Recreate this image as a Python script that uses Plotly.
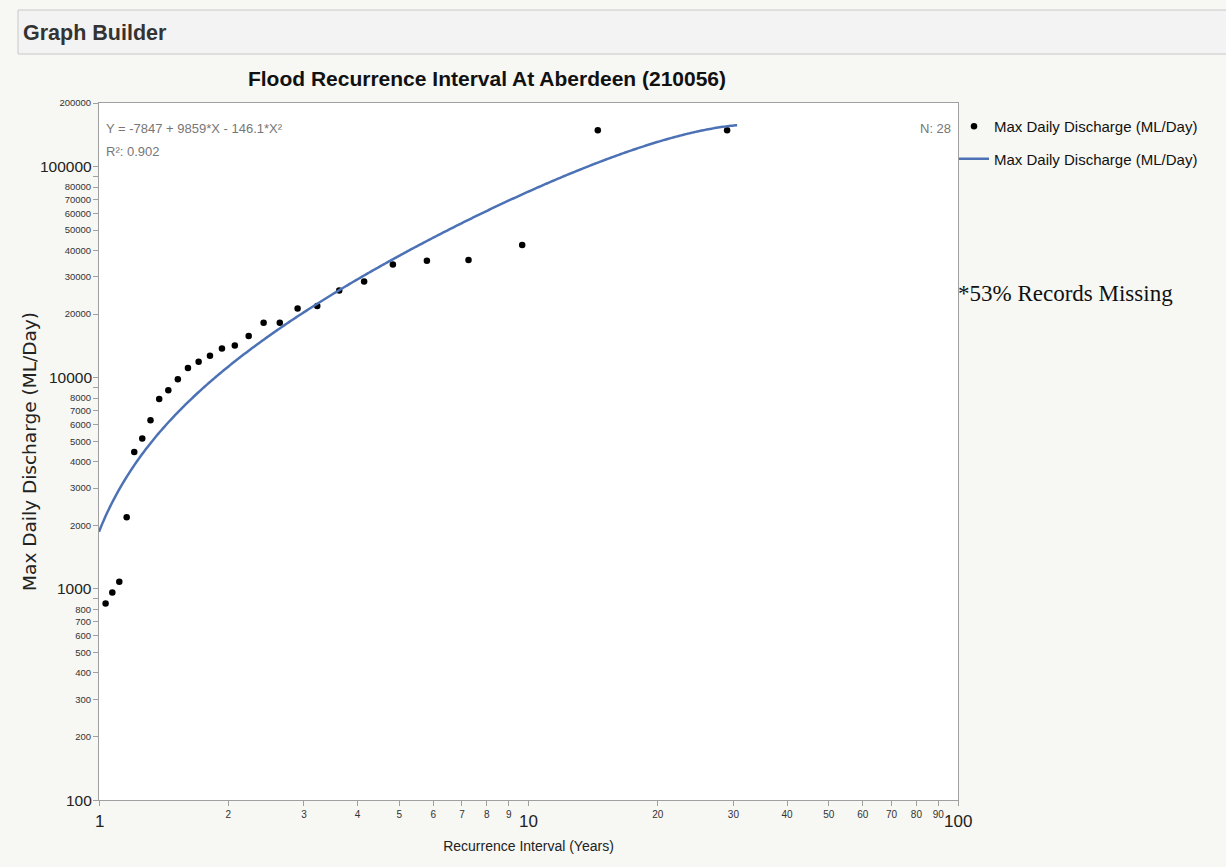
import math
import plotly.graph_objects as go

# ---------------- data ----------------
recurrence_years = [1.036, 1.074, 1.115, 1.160, 1.208, 1.261, 1.318, 1.381, 1.450, 1.526,
                    1.611, 1.706, 1.813, 1.933, 2.071, 2.231, 2.417, 2.636, 2.900, 3.222,
                    3.625, 4.143, 4.833, 5.800, 7.250, 9.667, 14.500, 29.000]
max_discharge = [853, 961, 1081, 2181, 4446, 5160, 6296, 7920, 8710, 9840,
                 11110, 11890, 12700, 13760, 14220, 15780, 18200, 18200, 21280, 21880,
                 25880, 28580, 34360, 35770, 36060, 42470, 148700, 148700]

# quadratic fit shown on the chart: Y = c0 + c1*X + c2*X^2
fit_c0, fit_c1, fit_c2 = -7847.0, 9859.0, -146.1
fit_x_start, fit_x_end = 1.0, 30.6

x_tick_vals = [1, 2, 3, 4, 5, 6, 7, 8, 9, 10, 20, 30, 40, 50, 60, 70, 80, 90, 100]
x_major = [1, 10, 100]
y_tick_vals = [100, 200, 300, 400, 500, 600, 700, 800, 900,
               1000, 2000, 3000, 4000, 5000, 6000, 7000, 8000, 9000,
               10000, 20000, 30000, 40000, 50000, 60000, 70000, 80000, 90000,
               100000, 200000]
y_major = [100, 1000, 10000, 100000]
y_unlabelled = [900, 9000, 90000]

series_name = "Max Daily Discharge (ML/Day)"
equation_text = "Y = -7847 + 9859*X - 146.1*X²"
r2_text = "R²: 0.902"
n_text = "N: 28"
note_text = "*53% Records Missing"

# ---------------- layout geometry ----------------
W, H = 1226, 867
L, R, T, B = 99, W - 958, 103, H - 800
PW, PH = W - L - R, H - T - B

def px_x(p):
    return (p - L) / PW

def px_y(p):
    return (H - B - p) / PH

SANS = "Liberation Sans, Arial, Helvetica, sans-serif"
AXIS_GREY = "#a0a0a0"

fit_n = 400
fit_x = [fit_x_start * (fit_x_end / fit_x_start) ** (i / (fit_n - 1)) for i in range(fit_n)]
fit_y = [fit_c0 + fit_c1 * x + fit_c2 * x * x for x in fit_x]

fig = go.Figure()
fig.add_trace(go.Scatter(
    x=recurrence_years, y=max_discharge, mode="markers",
    name=series_name,
    marker=dict(color="black", size=6.5),
    legendgroup="a",
))
fig.add_trace(go.Scatter(
    x=fit_x, y=fit_y, mode="lines",
    name=series_name,
    line=dict(color="#4c72b5", width=2.5, simplify=False),
    legendgroup="b",
))

x_ticktext = ["" if v in x_major else str(v) for v in x_tick_vals]
y_ticktext = ["" if (v in y_major or v in y_unlabelled) else str(v) for v in y_tick_vals]

fig.update_layout(
    width=W, height=H,
    margin=dict(l=L, r=R, t=T, b=B, autoexpand=False),
    paper_bgcolor="#f7f7f3",
    plot_bgcolor="white",
    font=dict(family=SANS, color="#333333"),
    title=dict(
        text="<b>Flood Recurrence Interval At Aberdeen (210056)</b>",
        font=dict(family=SANS, size=21, color="#111111"),
        xref="paper", x=px_x(487), xanchor="center",
        yref="container", y=1 - 79 / H, yanchor="middle",
    ),
    xaxis=dict(
        type="log", range=[0, 2],
        tickvals=x_tick_vals, ticktext=x_ticktext,
        tickfont=dict(size=10, color="#333333"),
        ticks="outside", ticklen=5, tickcolor=AXIS_GREY,
        showline=True, linecolor=AXIS_GREY, linewidth=1, mirror=True,
        showgrid=False, zeroline=False,
        title=dict(text="Recurrence Interval (Years)",
                   font=dict(family=SANS, size=14, color="#222222"), standoff=22),
    ),
    yaxis=dict(
        type="log", range=[2, math.log10(200000)],
        tickvals=y_tick_vals, ticktext=y_ticktext,
        tickfont=dict(size=9.5, color="#333333"),
        ticks="outside", ticklen=5, tickcolor=AXIS_GREY,
        showline=True, linecolor=AXIS_GREY, linewidth=1, mirror=True,
        showgrid=False, zeroline=False,
        title=dict(text="Max Daily Discharge (ML/Day)",
                   font=dict(family="DejaVu Sans, sans-serif", size=18.5, color="#222222"),
                   standoff=17),
    ),
    legend=dict(
        x=px_x(954), xanchor="left", y=px_y(110), yanchor="top",
        bgcolor="rgba(0,0,0,0)",
        font=dict(family=SANS, size=15, color="#111111"),
        tracegroupgap=10, itemwidth=30,
    ),
    showlegend=True,
)

# big labels for the major ticks
for v in x_major:
    fig.add_annotation(x=math.log10(v), y=0, xref="x", yref="paper",
                       text=str(v), showarrow=False, yanchor="top", yshift=-10,
                       font=dict(family=SANS, size=17, color="#222222"))
for v in y_major:
    fig.add_annotation(x=0, y=math.log10(v), xref="paper", yref="y",
                       text=str(v), showarrow=False, xanchor="right", xshift=-5,
                       font=dict(family=SANS, size=15.5, color="#222222"))

# in-plot text
fig.add_annotation(x=px_x(104), y=px_y(128), xref="paper", yref="paper",
                   text=equation_text, showarrow=False, xanchor="left", yanchor="middle",
                   font=dict(family=SANS, size=13, color="#777777"))
fig.add_annotation(x=px_x(104), y=px_y(151), xref="paper", yref="paper",
                   text=r2_text, showarrow=False, xanchor="left", yanchor="middle",
                   font=dict(family=SANS, size=13, color="#777777"))
fig.add_annotation(x=px_x(953), y=px_y(128), xref="paper", yref="paper",
                   text=n_text, showarrow=False, xanchor="right", yanchor="middle",
                   font=dict(family=SANS, size=13, color="#777777"))
fig.add_annotation(x=px_x(956), y=px_y(293), xref="paper", yref="paper",
                   text=note_text, showarrow=False,
                   xanchor="left", yanchor="middle",
                   font=dict(family="Liberation Serif, Times New Roman, serif", size=23,
                             color="#111111"))

# "Graph Builder" header box
fig.add_shape(type="rect", xref="paper", yref="paper",
              x0=px_x(18), x1=px_x(W + 4), y0=px_y(54), y1=px_y(10),
              fillcolor="#f3f3f3", line=dict(color="#c8c8c8", width=1), layer="below")
fig.add_annotation(x=px_x(21), y=px_y(33), xref="paper", yref="paper",
                   text="<b>Graph Builder</b>", showarrow=False,
                   xanchor="left", yanchor="middle",
                   font=dict(family=SANS, size=21.5, color="#333333"))

fig.write_html("out.html", config={"displayModeBar": False},
               post_script="document.body.style.margin='0';")
